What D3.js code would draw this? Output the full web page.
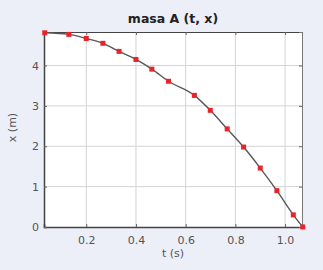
<!DOCTYPE html>
<html>
<head>
<meta charset="utf-8">
<script src="https://cdn.jsdelivr.net/npm/d3@7"></script>
<style>
  html, body { margin: 0; padding: 0; background: #eceef8; }
  svg { display: block; }
</style>
</head>
<body>
<svg id="chart" width="323" height="270"></svg>
<script>
// données
const tValues = [0.033, 0.130, 0.200, 0.267, 0.332, 0.400, 0.464, 0.531,
                 0.635, 0.699, 0.767, 0.833, 0.900, 0.967, 1.033, 1.071];
const xValues = [4.81, 4.77, 4.67, 4.55, 4.35, 4.15, 3.91, 3.61,
                 3.26, 2.89, 2.43, 1.98, 1.46, 0.90, 0.30, 0.0];
const xTicks = [0.2, 0.4, 0.6, 0.8, 1.0];
const yTicks = [0, 1, 2, 3, 4];

const data = tValues.map((t, i) => ({ t: t, x: xValues[i] }));

const svg = d3.select("#chart");
const margin = { top: 32, right: 21, bottom: 43, left: 44 };
const width = +svg.attr("width") - margin.left - margin.right;
const height = +svg.attr("height") - margin.top - margin.bottom;

const xScale = d3.scaleLinear().domain([0.03, 1.068]).range([0, width]);
const yScale = d3.scaleLinear().domain([0, 4.83]).range([height, 0]);

const font = "DejaVu Sans, Verdana, sans-serif";

const g = svg.append("g")
    .attr("transform", `translate(${margin.left}, ${margin.top})`);

// fond blanc de la zone de tracé
g.append("rect")
    .attr("width", width)
    .attr("height", height)
    .attr("fill", "#ffffff");

// grille
g.append("g")
    .selectAll("line")
    .data(xTicks)
    .enter().append("line")
    .attr("x1", d => xScale(d)).attr("x2", d => xScale(d))
    .attr("y1", 0).attr("y2", height)
    .attr("stroke", "#d4d4d4");

g.append("g")
    .selectAll("line")
    .data(yTicks.filter(d => d > 0))
    .enter().append("line")
    .attr("x1", 0).attr("x2", width)
    .attr("y1", d => yScale(d)).attr("y2", d => yScale(d))
    .attr("stroke", "#d4d4d4");

// axes
const xAxis = g.append("g")
    .attr("transform", `translate(0, ${height})`)
    .call(d3.axisBottom(xScale).tickValues(xTicks).tickSize(-3).tickPadding(9).tickFormat(d3.format(".1f")));

const yAxis = g.append("g")
    .call(d3.axisLeft(yScale).tickValues(yTicks).tickSize(-3).tickPadding(5).tickFormat(d3.format("d")));

const xTop = g.append("g")
    .call(d3.axisTop(xScale).tickValues(xTicks).tickSize(-3).tickFormat(""));

const yRight = g.append("g")
    .attr("transform", `translate(${width}, 0)`)
    .call(d3.axisRight(yScale).tickValues(yTicks).tickSize(-3).tickFormat(""));

[xAxis, yAxis, xTop, yRight].forEach(a => {
    a.selectAll("text")
        .attr("fill", "#555")
        .style("font-size", "11px")
        .style("font-family", font);
    a.selectAll("line").attr("stroke", "#666");
    a.select(".domain").attr("stroke", "#777");
});
xAxis.select(".domain").attr("stroke", "#444").attr("stroke-width", 1.5);
yAxis.select(".domain").attr("stroke", "#444").attr("stroke-width", 1.5);
xTop.select(".domain").attr("stroke", "#444");

// courbe
const line = d3.line()
    .x(d => xScale(d.t))
    .y(d => yScale(d.x))
    .curve(d3.curveMonotoneX);

g.append("path")
    .datum(data)
    .attr("fill", "none")
    .attr("stroke", "#585858")
    .attr("stroke-width", 1.4)
    .attr("d", line);

// points
g.selectAll(".pt")
    .data(data)
    .enter().append("rect")
    .attr("class", "pt")
    .attr("x", d => xScale(d.t) - 2.5)
    .attr("y", d => yScale(d.x) - 2.5)
    .attr("width", 5)
    .attr("height", 5)
    .attr("fill", "#e8242a");

// titre
svg.append("text")
    .attr("x", margin.left + width / 2)
    .attr("y", 23)
    .attr("text-anchor", "middle")
    .style("font-family", font)
    .style("font-weight", "bold")
    .style("font-size", "12.5px")
    .style("fill", "#222")
    .text("masa A (t, x)");

// légende des axes
svg.append("text")
    .attr("x", margin.left + width / 2)
    .attr("y", 257)
    .attr("text-anchor", "middle")
    .style("font-family", font)
    .style("font-size", "11px")
    .style("fill", "#555")
    .text("t (s)");

svg.append("text")
    .attr("transform", `translate(16, ${margin.top + height / 2 - 2}) rotate(-90)`)
    .attr("text-anchor", "middle")
    .style("font-family", font)
    .style("font-size", "11px")
    .style("fill", "#555")
    .text("x (m)");
</script>
</body>
</html>
